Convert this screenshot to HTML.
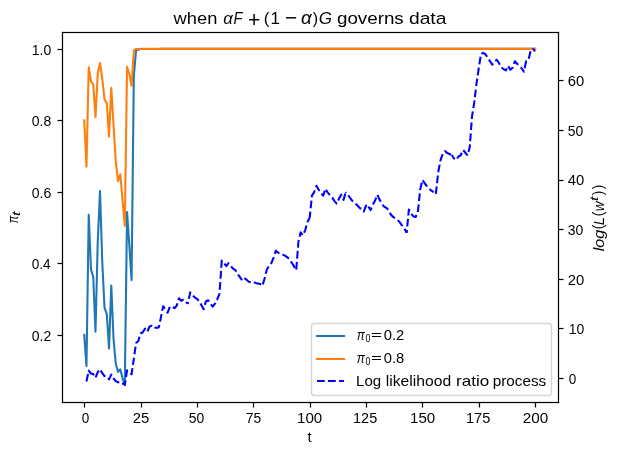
<!DOCTYPE html>
<html><head><meta charset="utf-8"><style>
html,body{margin:0;padding:0;background:#fff;}
body{width:621px;height:455px;overflow:hidden;}
svg{display:block;}
text{font-family:"Liberation Sans",sans-serif;}
</style></head><body>
<svg width="621" height="455" viewBox="0 0 621 455">
<rect width="621" height="455" fill="#fff"/>
<defs><clipPath id="c"><rect x="61.68" y="32.33" width="495.99999999999994" height="369.6"/></clipPath></defs>
<g clip-path="url(#c)" fill="none" stroke-linejoin="round">
<polyline points="84.23,334.84 86.48,365.97 88.73,214.79 90.99,269.38 93.24,276.90 95.50,331.64 97.75,241.54 100.01,191.15 102.26,261.70 104.52,307.81 106.77,313.90 109.03,348.56 111.28,285.44 113.53,338.98 115.79,363.73 118.04,371.95 120.30,369.28 122.55,378.36 124.81,384.88 127.06,212.12 129.32,245.09 131.57,280.19 133.83,75.65 136.08,50.06 138.33,49.67 140.59,49.06 142.84,49.02 145.10,48.94 147.35,49.00 149.61,48.92 151.86,48.92 154.12,48.94 156.37,48.93 158.63,48.94 160.88,48.89 163.13,48.88 165.39,48.88 167.64,48.88 169.90,48.88 172.15,48.88 174.41,48.88 176.66,48.88 178.92,48.88 181.17,48.88 183.43,48.88 185.68,48.88 187.93,48.88 190.19,48.88 192.44,48.88 194.70,48.88 196.95,48.88 199.21,48.88 201.46,48.88 203.72,48.88 205.97,48.88 208.23,48.88 210.48,48.88 212.73,48.88 214.99,48.88 217.24,48.88 219.50,48.88 221.75,48.88 224.01,48.88 226.26,48.88 228.52,48.88 230.77,48.88 233.03,48.88 235.28,48.88 237.53,48.88 239.79,48.88 242.04,48.88 244.30,48.88 246.55,48.88 248.81,48.88 251.06,48.88 253.32,48.88 255.57,48.88 257.83,48.88 260.08,48.88 262.33,48.88 264.59,48.88 266.84,48.88 269.10,48.88 271.35,48.88 273.61,48.88 275.86,48.88 278.12,48.88 280.37,48.88 282.63,48.88 284.88,48.88 287.13,48.88 289.39,48.88 291.64,48.88 293.90,48.88 296.15,48.88 298.41,48.88 300.66,48.88 302.92,48.88 305.17,48.88 307.43,48.88 309.68,48.88 311.93,48.88 314.19,48.88 316.44,48.88 318.70,48.88 320.95,48.88 323.21,48.88 325.46,48.88 327.72,48.88 329.97,48.88 332.23,48.88 334.48,48.88 336.73,48.88 338.99,48.88 341.24,48.88 343.50,48.88 345.75,48.88 348.01,48.88 350.26,48.88 352.52,48.88 354.77,48.88 357.03,48.88 359.28,48.88 361.53,48.88 363.79,48.88 366.04,48.88 368.30,48.88 370.55,48.88 372.81,48.88 375.06,48.88 377.32,48.88 379.57,48.88 381.83,48.88 384.08,48.88 386.33,48.88 388.59,48.88 390.84,48.88 393.10,48.88 395.35,48.88 397.61,48.88 399.86,48.88 402.12,48.88 404.37,48.88 406.63,48.88 408.88,48.88 411.13,48.88 413.39,48.88 415.64,48.88 417.90,48.88 420.15,48.88 422.41,48.88 424.66,48.88 426.92,48.88 429.17,48.88 431.43,48.88 433.68,48.88 435.93,48.88 438.19,48.88 440.44,48.88 442.70,48.88 444.95,48.88 447.21,48.88 449.46,48.88 451.72,48.88 453.97,48.88 456.23,48.88 458.48,48.88 460.73,48.88 462.99,48.88 465.24,48.88 467.50,48.88 469.75,48.88 472.01,48.88 474.26,48.88 476.52,48.88 478.77,48.88 481.03,48.88 483.28,48.88 485.53,48.88 487.79,48.88 490.04,48.88 492.30,48.88 494.55,48.88 496.81,48.88 499.06,48.88 501.32,48.88 503.57,48.88 505.83,48.88 508.08,48.88 510.33,48.88 512.59,48.88 514.84,48.88 517.10,48.88 519.35,48.88 521.61,48.88 523.86,48.88 526.12,48.88 528.37,48.88 530.63,48.88 532.88,48.88 535.13,48.88" stroke="#1f77b4" stroke-width="2.083" stroke-linecap="square"/>
<polyline points="84.23,120.37 86.48,166.59 88.73,67.24 90.99,81.56 93.24,84.33 95.50,117.28 97.75,73.22 100.01,63.07 102.26,78.99 104.52,99.31 106.77,103.20 109.03,136.40 111.28,87.83 113.53,124.70 115.79,161.83 118.04,181.13 120.30,174.29 122.55,200.45 124.81,225.70 127.06,66.72 129.32,74.14 131.57,85.63 133.83,50.68 136.08,48.95 138.33,48.93 140.59,48.89 142.84,48.89 145.10,48.88 147.35,48.89 149.61,48.88 151.86,48.88 154.12,48.88 156.37,48.88 158.63,48.88 160.88,48.88 163.13,48.88 165.39,48.88 167.64,48.88 169.90,48.88 172.15,48.88 174.41,48.88 176.66,48.88 178.92,48.88 181.17,48.88 183.43,48.88 185.68,48.88 187.93,48.88 190.19,48.88 192.44,48.88 194.70,48.88 196.95,48.88 199.21,48.88 201.46,48.88 203.72,48.88 205.97,48.88 208.23,48.88 210.48,48.88 212.73,48.88 214.99,48.88 217.24,48.88 219.50,48.88 221.75,48.88 224.01,48.88 226.26,48.88 228.52,48.88 230.77,48.88 233.03,48.88 235.28,48.88 237.53,48.88 239.79,48.88 242.04,48.88 244.30,48.88 246.55,48.88 248.81,48.88 251.06,48.88 253.32,48.88 255.57,48.88 257.83,48.88 260.08,48.88 262.33,48.88 264.59,48.88 266.84,48.88 269.10,48.88 271.35,48.88 273.61,48.88 275.86,48.88 278.12,48.88 280.37,48.88 282.63,48.88 284.88,48.88 287.13,48.88 289.39,48.88 291.64,48.88 293.90,48.88 296.15,48.88 298.41,48.88 300.66,48.88 302.92,48.88 305.17,48.88 307.43,48.88 309.68,48.88 311.93,48.88 314.19,48.88 316.44,48.88 318.70,48.88 320.95,48.88 323.21,48.88 325.46,48.88 327.72,48.88 329.97,48.88 332.23,48.88 334.48,48.88 336.73,48.88 338.99,48.88 341.24,48.88 343.50,48.88 345.75,48.88 348.01,48.88 350.26,48.88 352.52,48.88 354.77,48.88 357.03,48.88 359.28,48.88 361.53,48.88 363.79,48.88 366.04,48.88 368.30,48.88 370.55,48.88 372.81,48.88 375.06,48.88 377.32,48.88 379.57,48.88 381.83,48.88 384.08,48.88 386.33,48.88 388.59,48.88 390.84,48.88 393.10,48.88 395.35,48.88 397.61,48.88 399.86,48.88 402.12,48.88 404.37,48.88 406.63,48.88 408.88,48.88 411.13,48.88 413.39,48.88 415.64,48.88 417.90,48.88 420.15,48.88 422.41,48.88 424.66,48.88 426.92,48.88 429.17,48.88 431.43,48.88 433.68,48.88 435.93,48.88 438.19,48.88 440.44,48.88 442.70,48.88 444.95,48.88 447.21,48.88 449.46,48.88 451.72,48.88 453.97,48.88 456.23,48.88 458.48,48.88 460.73,48.88 462.99,48.88 465.24,48.88 467.50,48.88 469.75,48.88 472.01,48.88 474.26,48.88 476.52,48.88 478.77,48.88 481.03,48.88 483.28,48.88 485.53,48.88 487.79,48.88 490.04,48.88 492.30,48.88 494.55,48.88 496.81,48.88 499.06,48.88 501.32,48.88 503.57,48.88 505.83,48.88 508.08,48.88 510.33,48.88 512.59,48.88 514.84,48.88 517.10,48.88 519.35,48.88 521.61,48.88 523.86,48.88 526.12,48.88 528.37,48.88 530.63,48.88 532.88,48.88 535.13,48.88" stroke="#ff7f0e" stroke-width="2.083" stroke-linecap="square"/>
</g>
<rect x="311.5" y="323.5" width="240" height="72" rx="2.8" ry="2.8" fill="#fff" fill-opacity="0.8" stroke="#cccccc" stroke-opacity="0.8" stroke-width="1.389"/>
<line x1="317" y1="336" x2="344" y2="336" stroke="#1f77b4" stroke-width="2.083" stroke-linecap="square"/>
<line x1="317" y1="359" x2="344" y2="359" stroke="#ff7f0e" stroke-width="2.083" stroke-linecap="square"/>
<line x1="317" y1="381" x2="344" y2="381" stroke="#0000ff" stroke-width="2.083" stroke-dasharray="7.708 3.333"/>
<g clip-path="url(#c)" fill="none" stroke="#0000ff" stroke-width="2.083" stroke-dasharray="7.708 3.333" stroke-linejoin="round">
<polyline points="86.48,381.46 88.73,370.53 90.99,373.60 93.24,374.05 95.50,377.84 97.75,372.01 100.01,369.19 102.26,373.15 104.52,376.03 106.77,376.46 109.03,379.40 111.28,374.57 113.53,378.48 115.79,381.16 118.04,382.35 120.30,381.93 122.55,383.47 124.81,384.88 127.06,370.38 129.32,372.21 131.57,374.24 133.83,358.77" stroke-dashoffset="0.000"/>
<polyline points="133.83,358.77 136.08,342.91 138.33,340.92 140.59,333.49 142.84,332.25 145.10,328.53 147.35,331.50 149.61,326.55 151.86,325.80 154.12,328.03 156.37,327.54 158.63,328.03" stroke-dashoffset="6.478"/>
<polyline points="158.63,328.03 160.88,317.62 163.13,306.22 165.39,309.19 167.64,312.66 169.90,306.71 172.15,306.71 174.41,308.20 176.66,305.72 178.92,298.28 181.17,300.76 183.43,299.77 185.68,301.75 187.93,303.74" stroke-dashoffset="4.511"/>
<polyline points="187.93,303.74 190.19,292.33 192.44,295.31 194.70,297.29 196.95,298.78 199.21,301.26 201.46,305.22 203.72,309.19 205.97,301.26 208.23,300.27 210.48,303.74 212.73,306.71 214.99,303.74 217.24,299.27 219.50,293.82" stroke-dashoffset="6.126"/>
<polyline points="219.50,293.82 221.75,260.60 224.01,263.08 226.26,266.05 228.52,263.08 230.77,266.05 233.03,268.53 235.28,270.02 237.53,273.99 239.79,276.96 242.04,280.19" stroke-dashoffset="6.970"/>
<polyline points="242.04,280.19 244.30,278.20 246.55,279.69 248.81,281.67 251.06,282.42 253.32,281.92 255.57,282.91 257.83,283.41 260.08,283.90 262.33,285.89 264.59,278.45 266.84,269.52 269.10,266.05 271.35,263.08 273.61,257.62 275.86,250.68 278.12,252.67 280.37,253.66 282.63,254.65 284.88,255.64 287.13,257.13 289.39,259.11 291.64,262.58 293.90,266.05 296.15,271.01" stroke-dashoffset="8.021"/>
<polyline points="296.15,271.01 298.41,241.76 300.66,232.34 302.92,235.31 305.17,230.35 307.43,221.93 309.68,217.96" stroke-dashoffset="9.617"/>
<polyline points="309.68,217.96 311.93,195.65 314.19,192.18 316.44,185.73 318.70,189.70 320.95,193.17 323.21,195.65 325.46,188.70 327.72,192.67" stroke-dashoffset="1.302"/>
<polyline points="327.72,192.67 329.97,195.15 332.23,197.63 334.48,201.10 336.73,203.58 338.99,198.62 341.24,194.65 343.50,199.86 345.75,192.18" stroke-dashoffset="4.487"/>
<polyline points="345.75,192.18 348.01,195.15 350.26,198.13 352.52,201.10 354.77,203.08 357.03,205.07 359.28,207.55 361.53,209.03 363.79,211.51 366.04,205.56 368.30,206.55" stroke-dashoffset="6.967"/>
<polyline points="368.30,206.55 370.55,210.03 372.81,204.57 375.06,200.60 377.32,194.65 379.57,199.61 381.83,203.58 384.08,206.55 386.33,207.79 388.59,210.27 390.84,214.49 393.10,216.97 395.35,218.45 397.61,219.94 399.86,222.42 402.12,225.64 404.37,228.37 406.63,232.83" stroke-dashoffset="0.815"/>
<polyline points="406.63,232.83 408.88,209.53 411.13,213.50 413.39,216.47 415.64,216.97 417.90,212.01 420.15,189.70 422.41,179.78 424.66,183.25 426.92,186.23 429.17,188.70 431.43,190.69 433.68,192.18" stroke-dashoffset="4.691"/>
<polyline points="433.68,192.18 435.93,193.17 438.19,172.34 440.44,160.44 442.70,154.00 444.95,151.02 447.21,153.00 449.46,154.00 451.72,154.99" stroke-dashoffset="9.559"/>
<polyline points="451.72,154.99 453.97,158.46 456.23,159.95 458.48,156.48 460.73,155.24 462.99,150.03 465.24,152.51 467.50,155.48" stroke-dashoffset="2.499"/>
<polyline points="467.50,155.48 469.75,147.05 472.01,116.31 474.26,102.43 476.52,83.59 478.77,68.22 481.03,53.84 483.28,52.85 485.53,54.33 487.79,57.80 490.04,61.28 492.30,64.75 494.55,61.28 496.81,59.79 499.06,63.26 501.32,67.23 503.57,69.21 505.83,70.45 508.08,65.74 510.33,69.70 512.59,67.72 514.84,61.28 517.10,63.75 519.35,65.74 521.61,68.22" stroke-dashoffset="7.350"/>
<polyline points="521.61,68.22 523.86,71.69 526.12,61.28 528.37,60.28 530.63,50.86 532.88,48.88 535.13,51.36" stroke-dashoffset="3.320"/>
</g>
<g fill="#000">
<rect x="61.890" y="31.890" width="497.220" height="1.22"/>
<rect x="61.890" y="401.890" width="497.220" height="1.22"/>
<rect x="61.890" y="31.890" width="1.22" height="371.220"/>
<rect x="557.890" y="31.890" width="1.22" height="371.220"/>
<rect x="83.890" y="402.5" width="1.22" height="5.00"/>
<rect x="140.890" y="402.5" width="1.22" height="5.00"/>
<rect x="196.890" y="402.5" width="1.22" height="5.00"/>
<rect x="252.890" y="402.5" width="1.22" height="5.00"/>
<rect x="309.890" y="402.5" width="1.22" height="5.00"/>
<rect x="365.890" y="402.5" width="1.22" height="5.00"/>
<rect x="421.890" y="402.5" width="1.22" height="5.00"/>
<rect x="478.890" y="402.5" width="1.22" height="5.00"/>
<rect x="534.890" y="402.5" width="1.22" height="5.00"/>
<rect x="57.50" y="334.890" width="5.00" height="1.22"/>
<rect x="57.50" y="262.890" width="5.00" height="1.22"/>
<rect x="57.50" y="191.890" width="5.00" height="1.22"/>
<rect x="57.50" y="119.890" width="5.00" height="1.22"/>
<rect x="57.50" y="48.890" width="5.00" height="1.22"/>
<rect x="558.5" y="377.890" width="5.00" height="1.22"/>
<rect x="558.5" y="327.890" width="5.00" height="1.22"/>
<rect x="558.5" y="278.890" width="5.00" height="1.22"/>
<rect x="558.5" y="228.890" width="5.00" height="1.22"/>
<rect x="558.5" y="179.890" width="5.00" height="1.22"/>
<rect x="558.5" y="129.890" width="5.00" height="1.22"/>
<rect x="558.5" y="79.890" width="5.00" height="1.22"/>
</g>
<g font-family="Liberation Sans" fill="#000" opacity="0.999">
<text id="x0" transform="matrix(0.6745,0,0,0.6921,81.750,423.112)" font-size="20.0" style="">0</text>
<text id="x25" transform="matrix(0.7416,0,0,0.6921,132.750,423.112)" font-size="20.0" style="">25</text>
<text id="x50" transform="matrix(0.6966,0,0,0.6921,188.750,423.112)" font-size="20.0" style="">50</text>
<text id="x75" transform="matrix(0.6966,0,0,0.7020,245.750,423.110)" font-size="20.0" style="">75</text>
<text id="x100" transform="matrix(0.7552,0,0,0.6921,297.050,423.112)" font-size="20.0" style="">100</text>
<text id="x125" transform="matrix(0.7252,0,0,0.6921,353.050,423.112)" font-size="20.0" style="">125</text>
<text id="x150" transform="matrix(0.7552,0,0,0.6921,410.050,423.112)" font-size="20.0" style="">150</text>
<text id="x175" transform="matrix(0.7252,0,0,0.7020,466.050,423.110)" font-size="20.0" style="">175</text>
<text id="x200" transform="matrix(0.7642,0,0,0.6921,522.750,423.112)" font-size="20.0" style="">200</text>
<text id="y0.2" transform="matrix(0.7014,0,0,0.6921,31.750,341.112)" font-size="20.0" style="">0.2</text>
<text id="y0.4" transform="matrix(0.6763,0,0,0.6921,31.750,269.112)" font-size="20.0" style="">0.4</text>
<text id="y0.6" transform="matrix(0.7014,0,0,0.6921,31.750,198.112)" font-size="20.0" style="">0.6</text>
<text id="y0.8" transform="matrix(0.7014,0,0,0.6921,31.750,126.112)" font-size="20.0" style="">0.8</text>
<text id="y1.0" transform="matrix(0.7014,0,0,0.6921,31.750,55.112)" font-size="20.0" style="">1.0</text>
<text id="r0" transform="matrix(0.6745,0,0,0.6921,568.750,384.112)" font-size="20.0" style="">0</text>
<text id="r10" transform="matrix(0.6966,0,0,0.6921,568.750,334.112)" font-size="20.0" style="">10</text>
<text id="r20" transform="matrix(0.7416,0,0,0.6921,567.750,285.112)" font-size="20.0" style="">20</text>
<text id="r30" transform="matrix(0.6966,0,0,0.6921,567.750,235.112)" font-size="20.0" style="">30</text>
<text id="r40" transform="matrix(0.7416,0,0,0.6921,567.750,185.112)" font-size="20.0" style="">40</text>
<text id="r50" transform="matrix(0.6966,0,0,0.6921,567.750,136.112)" font-size="20.0" style="">50</text>
<text id="r60" transform="matrix(0.7416,0,0,0.6921,567.750,86.112)" font-size="20.0" style="">60</text>
<text id="xlabel" transform="matrix(0.7374,0,0,0.6952,307.450,442.139)" font-size="20.0" style="">t</text>
<text id="t_when" transform="matrix(0.9158,0,0,0.8639,173.547,24.387)" font-size="20.0" style="">when</text>
<text id="t_a1" transform="matrix(0.8384,0,0,0.8695,223.250,24.377)" font-size="20.0" style="font-style:italic;">α</text>
<text id="t_F" transform="matrix(0.7356,0,0,0.8685,233.560,24.210)" font-size="20.0" style="font-style:italic;">F</text>
<text id="t_plus" transform="matrix(1.0479,0,0,1.1179,247.940,26.500)" font-size="20.0" style="">+</text>
<text id="t_lp" transform="matrix(0.8498,0,0,0.8610,263.820,23.996)" font-size="20.0" style="">(</text>
<text id="t_1" transform="matrix(0.8552,0,0,0.8517,270.550,24.210)" font-size="20.0" style="">1</text>
<text id="t_minus" transform="matrix(1.0445,0,0,1.0625,284.940,25.460)" font-size="20.0" style="">−</text>
<text id="t_a2" transform="matrix(0.9402,0,0,0.8942,301.020,24.372)" font-size="20.0" style="font-style:italic;">α</text>
<text id="t_rp" transform="matrix(0.8033,0,0,0.8631,312.750,23.677)" font-size="20.0" style="">)</text>
<text id="t_G" transform="matrix(0.8522,0,0,0.8524,318.630,24.390)" font-size="20.0" style="font-style:italic;">G</text>
<text id="t_governs" transform="matrix(0.9396,0,0,0.8665,336.940,23.694)" font-size="20.0" style="">governs</text>
<text id="t_data" transform="matrix(0.9612,0,0,0.8666,408.940,24.077)" font-size="20.0" style="">data</text>
<text id="l1_pi" transform="matrix(0.6054,0,0,0.7242,356.750,340.105)" font-size="20.0" style="font-style:italic;">π</text>
<text id="l1_0" transform="matrix(0.4460,0,0,0.5014,365.560,342.150)" font-size="20.0" style="">0</text>
<text id="l1_eq" transform="matrix(0.9349,0,0,0.5306,371.050,338.650)" font-size="20.0" style="">=</text>
<text id="l1_v" transform="matrix(0.7374,0,0,0.6921,383.750,340.112)" font-size="20.0" style="">0.2</text>
<text id="l2_pi" transform="matrix(0.6054,0,0,0.7242,356.750,363.105)" font-size="20.0" style="font-style:italic;">π</text>
<text id="l2_0" transform="matrix(0.4460,0,0,0.5014,365.560,365.150)" font-size="20.0" style="">0</text>
<text id="l2_eq" transform="matrix(0.9349,0,0,0.5306,371.050,361.650)" font-size="20.0" style="">=</text>
<text id="l2_v" transform="matrix(0.7374,0,0,0.6921,383.750,363.112)" font-size="20.0" style="">0.8</text>
<text id="l3_Log" transform="matrix(0.7552,0,0,0.7705,356.050,386.052)" font-size="20.0" style="">Log</text>
<text id="l3_likelihood" transform="matrix(0.7855,0,0,0.6875,385.750,386.112)" font-size="20.0" style="">likelihood</text>
<text id="l3_ratio" transform="matrix(0.8533,0,0,0.6875,456.050,386.112)" font-size="20.0" style="">ratio</text>
<text id="l3_process" transform="matrix(0.7640,0,0,0.7243,492.750,385.544)" font-size="20.0" style="">process</text>
<text id="yl_pi" transform="matrix(0,-0.5689,0.7242,0,18.105,223.250)" font-size="20.0" style="font-style:italic;">π</text>
<text id="yl_t" transform="matrix(0,-0.8800,0.5407,0,20.142,216.250)" font-size="20.0" style="font-style:italic;">t</text>
<text id="rl_log" transform="matrix(0,-0.8055,0.7028,0,603.633,251.250)" font-size="20.0" style="font-style:italic;">log</text>
<text id="rl_lp1" transform="matrix(0,-0.6757,0.6871,0,602.706,229.250)" font-size="20.0" style="">(</text>
<text id="rl_L" transform="matrix(0,-0.7374,0.7122,0,603.550,225.250)" font-size="20.0" style="font-style:italic;">L</text>
<text id="rl_lp2" transform="matrix(0,-0.6757,0.6871,0,602.706,216.250)" font-size="20.0" style="">(</text>
<text id="rl_w" transform="matrix(0,-0.6765,0.7379,0,603.550,211.250)" font-size="20.0" style="font-style:italic;">w</text>
<text id="rl_t" transform="matrix(0,-0.8800,0.5407,0,598.142,201.250)" font-size="20.0" style="font-style:italic;">t</text>
<text id="rl_rp1" transform="matrix(0,-0.6757,0.6871,0,602.706,195.250)" font-size="20.0" style="">)</text>
<text id="rl_rp2" transform="matrix(0,-0.6757,0.6871,0,602.706,189.250)" font-size="20.0" style="">)</text>
</g>
</svg>
</body></html>
